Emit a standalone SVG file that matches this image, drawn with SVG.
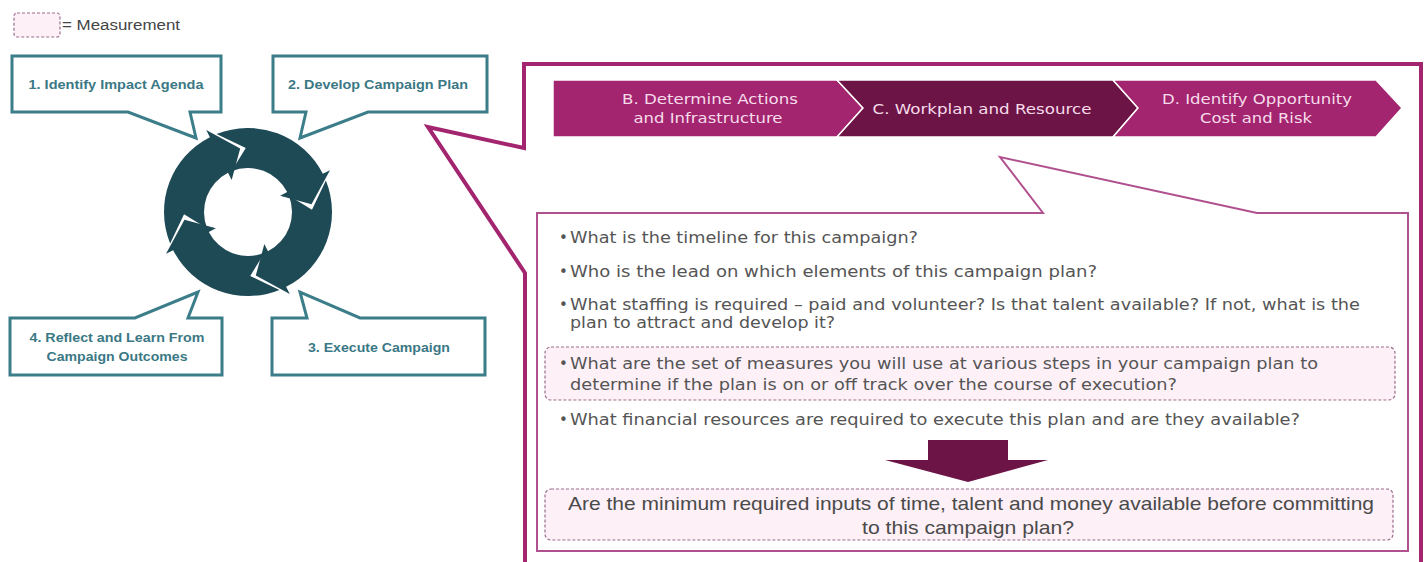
<svg xmlns="http://www.w3.org/2000/svg" width="1427" height="562" viewBox="0 0 1427 562">
  <style>
    .callout { fill: #ffffff; stroke: #3c7d8a; stroke-width: 3; stroke-linejoin: miter; }
    .callout-text { font-family: "Liberation Sans", Arial, sans-serif; font-weight: bold; font-size: 13px; fill: #3a7885; text-anchor: middle; }
    .ring { fill: #1e4a56; }
    .chev-light { fill: #a3246f; stroke: #ffffff; stroke-width: 1.5; }
    .chev-dark { fill: #6d1446; stroke: #ffffff; stroke-width: 1.5; }
    .chev-text { font-family: "DejaVu Sans", "Open Sans", sans-serif; font-size: 13.5px; fill: #f6dcea; text-anchor: middle; }
    .body-text { font-family: "DejaVu Sans", "Open Sans", sans-serif; font-size: 15px; fill: #555555; }
    .measure { fill: #fdf0f7; stroke: #9b6d8c; stroke-width: 1.2; stroke-dasharray: 3 2; }
    .summary-text { font-family: "Liberation Sans", Arial, sans-serif; font-size: 19px; fill: #4a4a4a; text-anchor: middle; }
  </style>
  <defs>
    <!-- one quarter of the cycle: notched tail at the top, arrowhead at the right -->
    <path id="cycle-seg" d="M-21.74,-81.14 A84,84 0 0 1 78.93,-28.73 L86.45,-31.47 L64,0 L33.83,-12.31 L41.35,-15.05 A44,44 0 0 0 -11.39,-42.50 L5.58,-63.76 Z"/>
  </defs>

  <rect width="1427" height="562" fill="#ffffff"/>

  <!-- legend -->
  <g id="legend">
    <rect x="14" y="13" width="46" height="24" rx="3" class="measure"/>
    <text x="62" y="30" font-family="Liberation Sans, Arial, sans-serif" font-size="14" fill="#444444" textLength="118" lengthAdjust="spacingAndGlyphs">= Measurement</text>
  </g>

  <!-- cycle ring -->
  <g id="cycle" class="ring">
    <use href="#cycle-seg" transform="translate(248,212) rotate(-7)"/>
    <use href="#cycle-seg" transform="translate(248,212) rotate(83)"/>
    <use href="#cycle-seg" transform="translate(248,212) rotate(173)"/>
    <use href="#cycle-seg" transform="translate(248,212) rotate(263)"/>
  </g>

  <!-- step callouts around the cycle -->
  <g id="step1">
    <path class="callout" d="M12,56 H221 V112 H190 L196,138 L128,112 H12 Z"/>
    <text class="callout-text" x="116" y="89" textLength="175" lengthAdjust="spacingAndGlyphs">1. Identify Impact Agenda</text>
  </g>
  <g id="step2">
    <path class="callout" d="M273,56 H487 V112 H368 L300,138 L306,112 H273 Z"/>
    <text class="callout-text" x="378" y="89" textLength="180" lengthAdjust="spacingAndGlyphs">2. Develop Campaign Plan</text>
  </g>
  <g id="step3">
    <path class="callout" d="M272,318 H307 L300,292 L360,318 H485 V375 H272 Z"/>
    <text class="callout-text" x="379" y="352" textLength="142" lengthAdjust="spacingAndGlyphs">3. Execute Campaign</text>
  </g>
  <g id="step4">
    <path class="callout" d="M10,318 H135 L198,292 L188,318 H222 V375 H10 Z"/>
    <text class="callout-text" x="117" y="342" textLength="175" lengthAdjust="spacingAndGlyphs">4. Reflect and Learn From</text>
    <text class="callout-text" x="117" y="361" textLength="141" lengthAdjust="spacingAndGlyphs">Campaign Outcomes</text>
  </g>

  <!-- detail panel for step 2 -->
  <g id="plan-panel">
    <path d="M524,148 V64 H1421 V575 H525 V273 L428,127 Z" fill="#ffffff" stroke="#a3246f" stroke-width="4" stroke-linejoin="miter"/>
  </g>

  <!-- phase chevrons -->
  <g id="phase-b">
    <path class="chev-light" d="M553,80 H837 L863,108 L837,137 H553 Z"/>
    <text class="chev-text" x="710" y="104" textLength="176" lengthAdjust="spacingAndGlyphs">B. Determine Actions</text>
    <text class="chev-text" x="708" y="123" textLength="149" lengthAdjust="spacingAndGlyphs">and Infrastructure</text>
  </g>
  <g id="phase-c">
    <path class="chev-dark" d="M837,80 H1113 L1138,108 L1113,137 H837 L863,108 Z"/>
    <text class="chev-text" x="982" y="114" textLength="219" lengthAdjust="spacingAndGlyphs">C. Workplan and Resource</text>
  </g>
  <g id="phase-d">
    <path class="chev-light" d="M1113,80 H1376 L1402,108 L1376,137 H1113 L1138,108 Z"/>
    <text class="chev-text" x="1257" y="104" textLength="190" lengthAdjust="spacingAndGlyphs">D. Identify Opportunity</text>
    <text class="chev-text" x="1256" y="123" textLength="112" lengthAdjust="spacingAndGlyphs">Cost and Risk</text>
  </g>

  <!-- question box for phase C -->
  <g id="questions">
    <path d="M537,213 H1043 L1000,157 L1257,213 H1408 V551 H537 Z" fill="#ffffff" stroke="#b0508f" stroke-width="2" stroke-linejoin="miter"/>
    <rect class="measure" x="545" y="347" width="850" height="53" rx="6"/>
    <g class="body-text">
      <text x="559" y="243">•</text>
      <text x="570" y="243" textLength="348" lengthAdjust="spacingAndGlyphs">What is the timeline for this campaign?</text>
      <text x="559" y="277">•</text>
      <text x="570" y="277" textLength="527" lengthAdjust="spacingAndGlyphs">Who is the lead on which elements of this campaign plan?</text>
      <text x="559" y="310">•</text>
      <text x="570" y="310" textLength="790" lengthAdjust="spacingAndGlyphs">What staffing is required – paid and volunteer? Is that talent available? If not, what is the</text>
      <text x="570" y="328" textLength="265" lengthAdjust="spacingAndGlyphs">plan to attract and develop it?</text>
      <text x="559" y="369">•</text>
      <text x="570" y="369" textLength="748" lengthAdjust="spacingAndGlyphs">What are the set of measures you will use at various steps in your campaign plan to</text>
      <text x="570" y="390" textLength="607" lengthAdjust="spacingAndGlyphs">determine if the plan is on or off track over the course of execution?</text>
      <text x="559" y="425">•</text>
      <text x="570" y="425" textLength="730" lengthAdjust="spacingAndGlyphs">What financial resources are required to execute this plan and are they available?</text>
    </g>
  </g>

  <!-- connector: questions lead to the go / no-go check -->
  <g id="connectors">
    <path d="M928,440 H1008 V460 H1048 L968,482 L885,460 H928 Z" fill="#6d1446"/>
  </g>

  <!-- go / no-go check -->
  <g id="summary">
    <rect class="measure" x="545" y="489" width="848" height="51" rx="6"/>
    <text class="summary-text" x="971" y="510" textLength="806" lengthAdjust="spacingAndGlyphs">Are the minimum required inputs of time, talent and money available before committing</text>
    <text class="summary-text" x="968" y="534" textLength="212" lengthAdjust="spacingAndGlyphs">to this campaign plan?</text>
  </g>
</svg>
